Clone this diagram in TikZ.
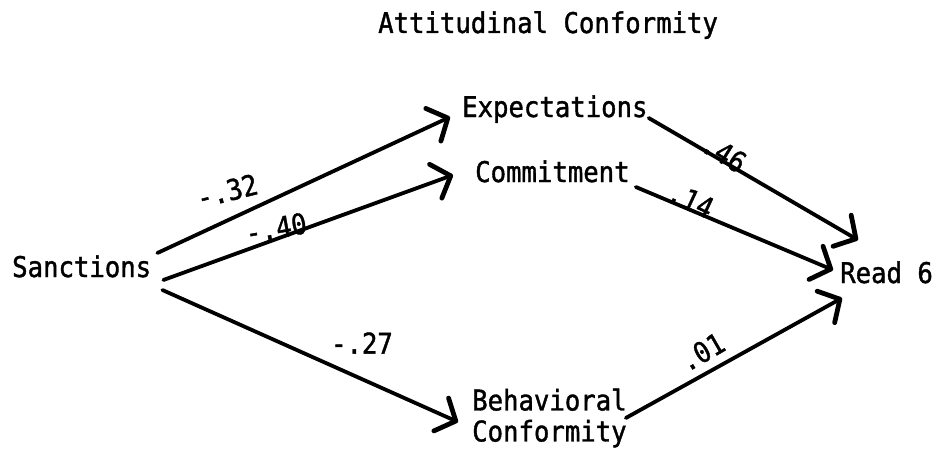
\documentclass[tikz,border=0pt]{standalone}
\usepackage{fontspec}
\newfontfamily\tw[FakeStretch=0.9,FakeBold=1.3]{DejaVu Sans Mono}
\usetikzlibrary{arrows.meta}
\begin{document}
\begin{tikzpicture}[x=1pt,y=-1pt,
  lbl/.style={inner sep=0pt, font=\tw\fontsize{28.5}{31}\selectfont},
  txt/.style={lbl, anchor=base west},
  conn/.style={line width=3.8pt, line cap=round,
    -{Straight Barb[length=16pt,width=36pt,line width=4.8pt,round]}}
]
\useasboundingbox (0,0) rectangle (939,452);
\fill[white] (0,0) rectangle (939,452);

% nodes
\node[txt] (t) at (378,33) {Attitudinal Conformity};
\node[txt] (s) at (12,277) {Sanctions};
\node[txt] (e) at (462,117) {Expectations};
\node[txt] (c) at (475,182) {Commitment};
\node[lbl, anchor=west, align=left] (b) at (472,418) {Behavioral\\Conformity};
\node[txt] (r) at (840,283) {Read 6};

% connectors
\draw[conn] ([shift={(6,-24)}]s.base east) -- ([shift={(-12,0)}]e.base west);
\draw[conn] ([shift={(12,3)}]s.base east) -- ([shift={(-22,-7)}]c.base west);
\draw[conn] ([shift={(11,13)}]s.base east) -- ([shift={(-14,4)}]b.west);
\draw[conn] ([shift={(1,1)}]e.base east) -- ([shift={(18,-43)}]r.base west);
\draw[conn] ([shift={(6,5)}]c.base east) -- ([shift={(-7,-13)}]r.base west);
\draw[conn] ([shift={(-1,0)}]b.east) -- ([shift={(2,15)}]r.base west);

% coefficients
\node[lbl, rotate=14] (k1) at (227,191) {-.32};
\node[lbl, rotate=10] (k2) at (276,228) {-.40};
\node[lbl] (k3) at (362,343) {-.27};
\node[lbl, rotate=-32] (k4) at (724,153) {.46};
\node[lbl, rotate=-25] (k5) at (691,200) {.14};
\node[lbl, rotate=30] (k6) at (702,352) {.01};
\end{tikzpicture}
\end{document}
